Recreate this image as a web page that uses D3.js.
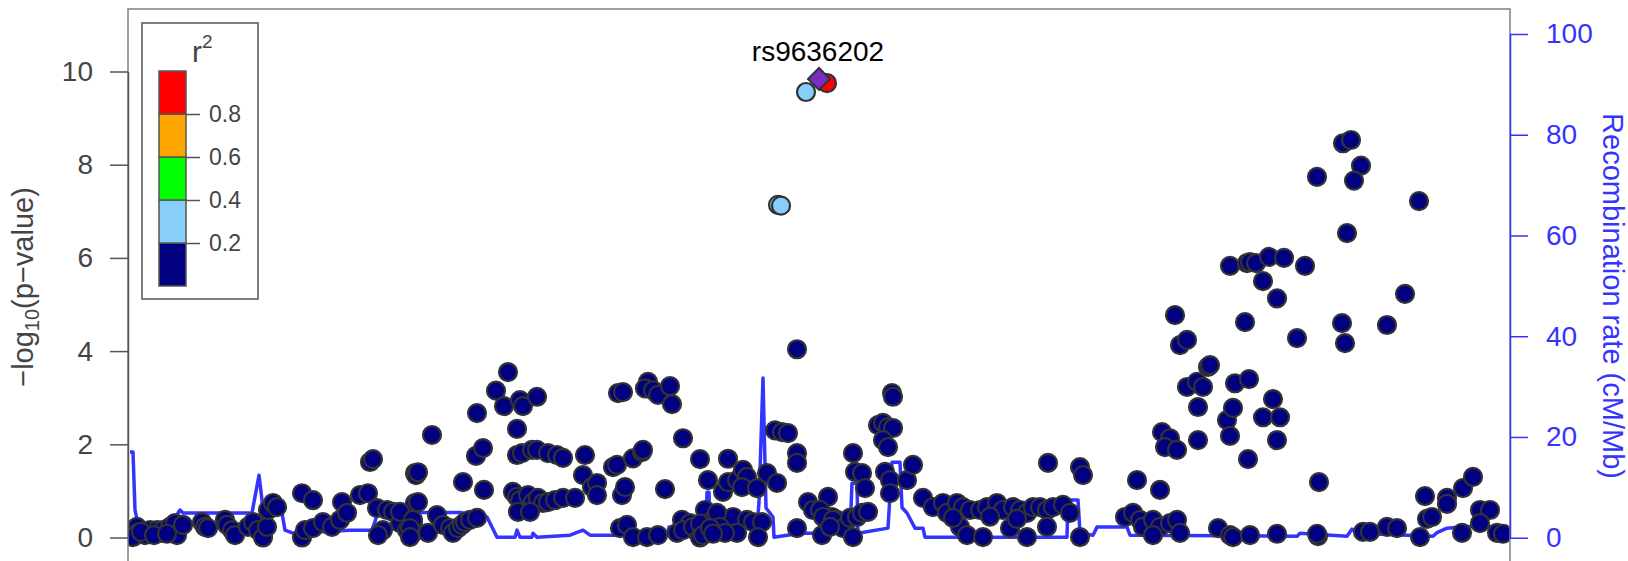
<!DOCTYPE html>
<html><head><meta charset="utf-8">
<script src="https://cdn.jsdelivr.net/npm/d3@7"></script>
<style>
html,body{margin:0;padding:0;background:#fff;}
svg{display:block;font-family:"Liberation Sans",Arial,Helvetica,sans-serif;}
</style></head>
<body>
<svg id="chart" width="1628" height="561"></svg>
<script>
// ---------- data (position in kb from the window start, -log10 p) ----------
const lowPos = [9,10,5,17,22,29,34,35,42,47,49,55,74,77,80,97,99,104,107,120,125,130,135,139,140,145,149,174,185,174,177,185,195,204,212,214,219,232,240,242,245,249,255,250,259,265,272,279,287,287,285,285,13,26,39,
 304,348,355,288,290,335,356,389,394,404,409,420,429,435,457,385,389,392,400,405,410,415,420,427,435,447,390,402,455,464,469,469,485,489,494,497,505,514,290,
 272,285,282,300,309,315,322,325,330,334,337,342,349,282,492,499,505,519,
 380,368,376,392,395,409,349,389,490,495,520,517,525,530,542,544,
 555,515,572,600,537,580,595,600,609,615,619,614,629,639,649,647,654,660,669,669,669,680,700,694,704,709,669,685,
 530,554,562,577,585,594,605,619,625,634,630,609,579,569,549,555,565,572,577,589,592,597,572,575,582,585,
 692,695,705,715,694,702,725,725,727,734,737,722,729,734,740,764,765,750,755,760,765,755,760,757,762,762,779,785,
 795,805,815,819,829,835,842,852,859,869,875,885,892,899,905,912,919,925,935,942,
 832,839,855,882,899,919,952,825,862,889,
 920,952,955,1009,1032,997,1005,1012,1015,1025,1032,1025,1042,1049,1052,
 1047,1052,1059,1080,1082,1059,1069,1075,1070,1034,1042,1037,1049,1070,1090,
 1135,1149,1117,1169,1214,1217,1259,1277,1107,1121,1099,1105,1102,1120,1135,1145,1152,1149,1191,
 1102,1105,1122,1149,1190,1189,1235,1242,1259,1269,1292,1297,1299,1304,1319,1319,1334,1335,1345,1352,1362,1352,1369,1375,
 1215,1223,1233,1189,1226,1291,1219,1102,1119,1122,1128,1141,1156,1177];
const lowLogP = [0.23,0.10,0.01,0.05,0.16,0.16,0.10,0.16,0.23,0.31,0.05,0.27,0.33,0.23,0.20,0.38,0.27,0.16,0.05,0.23,0.33,0.16,0.00,0.23,0.59,0.74,0.65,0.95,0.80,0.00,0.16,0.20,0.33,0.23,0.38,0.76,0.53,0.91,0.95,1.62,1.68,0.63,0.16,0.05,0.59,0.55,0.31,0.16,1.38,0.74,0.33,0.10,0.12,0.05,0.08,
 2.20,1.75,1.92,1.34,1.40,1.19,1.02,1.77,1.81,1.88,1.88,1.81,1.77,1.71,1.77,0.98,0.87,0.80,0.91,0.76,0.85,0.74,0.76,0.80,0.85,0.85,0.55,0.55,1.34,1.08,1.17,0.91,1.51,1.56,0.91,1.08,1.70,1.83,0.76,
 0.55,0.38,0.20,0.10,0.48,0.27,0.20,0.10,0.20,0.27,0.33,0.38,0.42,0.01,0.20,0.27,0.01,0.01,
 3.55,3.15,2.82,2.95,2.82,3.02,2.67,2.33,3.10,3.12,3.34,3.20,3.16,3.06,3.25,2.86,
 2.13,1.88,1.68,1.69,1.04,1.23,0.98,1.19,1.23,1.45,1.30,1.08,1.06,1.38,1.17,2.30,2.26,2.24,4.04,1.81,1.60,0.76,0.87,0.52,0.44,0.38,0.20,0.59,
 0.05,0.38,0.31,0.59,0.38,0.38,0.44,0.38,0.33,0.33,0.01,0.10,0.10,0.12,0.10,0.16,0.23,0.00,0.16,0.53,0.23,0.10,0.30,0.05,0.20,0.08,
 0.59,0.44,0.38,0.20,0.05,0.23,0.01,1.81,1.41,1.38,1.06,0.42,0.44,0.53,0.55,3.10,3.02,2.41,2.46,2.37,2.35,2.09,1.94,1.41,1.23,0.95,1.23,1.56,
 0.85,0.65,0.74,0.53,0.74,0.65,0.59,0.59,0.65,0.74,0.59,0.65,0.59,0.53,0.65,0.65,0.59,0.65,0.70,0.53,
 0.23,0.05,0.01,0.20,0.01,0.23,0.01,0.42,0.45,0.40,
 1.60,1.51,1.34,1.23,1.02,0.44,0.53,0.38,0.23,0.38,0.23,0.05,0.31,0.38,0.10,
 4.77,4.13,4.24,3.66,3.70,3.23,3.34,3.23,2.80,2.26,2.13,1.94,1.88,2.09,0.20,
 5.50,5.13,4.62,4.28,4.60,4.17,4.56,5.23,3.31,3.40,2.52,2.78,2.18,1.68,2.58,2.97,2.58,2.09,1.19,
 0.05,0.01,0.05,0.08,0.03,0.08,0.12,0.12,0.23,0.20,0.01,0.89,0.40,0.44,0.85,0.72,0.10,1.06,1.30,0.59,0.59,0.31,0.10,0.08,
 8.46,8.53,7.98,7.74,7.66,7.22,6.53,5.83,5.89,5.91,5.89,6.02,6.00,5.83];

// SNPs with r2 >= 0.2
const ldPos = [650, 653, 678, 699];
const ldLogP = [7.14, 7.12, 9.56, 9.75];
const ldR2 = [0.30, 0.30, 0.35, 0.85];

// index SNP
const leadName = "rs9636202";
const leadPos = 691;
const leadLogP = 9.84;

// recombination rate (cM/Mb)
const recPos = [2,5,7,12,47,50,52,55,124,131,134,135,154,157,165,222,244,250,297,332,359,369,387,389,392,404,405,409,442,455,462,539,541,578,579,581,582,629,631,635,638,645,646,672,722,724,729,730,760,764,772,774,779,787,795,797,939,940,950,952,965,969,999,1002,1169,1172,1219,1224,1229,1305,1309,1319,1339,1380];
const recRate = [17.0,17.0,5.5,0.9,0.9,4.9,5.5,4.9,4.9,12.4,7.5,4.0,4.9,1.5,0.9,1.5,1.5,5.0,5.0,5.0,4.1,0.1,0.1,1.5,0.1,0.1,0.9,0.1,0.5,1.5,0.5,0.5,2.1,2.1,9.0,9.0,2.1,2.1,7.0,31.7,5.9,4.1,0.1,0.9,0.9,10.8,10.8,0.9,1.9,15.0,15.0,6.0,4.9,1.9,1.9,0.1,0.1,7.5,7.5,0.9,0.5,2.1,2.1,0.5,0.3,0.9,0.3,1.7,0.9,0.3,1.0,1.9,2.2,2.2];

// r2 legend
const r2Breaks = [0.2, 0.4, 0.6, 0.8];
const r2Colors = ["#000080", "#87CEFA", "#00FF00", "#FFA500", "#FF0000"];
const leftTicks = [0, 2, 4, 6, 8, 10];
const rightTicks = [0, 20, 40, 60, 80, 100];

// ---------- drawing ----------
const svg = d3.select("#chart");
const X0 = 128, X1 = 1510, TOP = 9;
const x = d3.scaleLinear().domain([0, 1382]).range([X0, X1]);
const y = d3.scaleLinear().domain([0, 10]).range([537.5, 71.5]);
const yR = d3.scaleLinear().domain([0, 100]).range([537.7, 34]);
const color = d3.scaleThreshold().domain(r2Breaks).range(r2Colors);
const BLUE = "#3434ff";
const FONT = "'Liberation Sans',Arial,Helvetica,sans-serif";

svg.append("rect").attr("width", 1628).attr("height", 561).attr("fill", "#fff");

svg.append("defs").append("clipPath").attr("id", "clip")
  .append("rect").attr("x", X0).attr("y", TOP).attr("width", X1 - X0).attr("height", 600);

// recombination line
const line = d3.line().x((d, i) => x(recPos[i])).y((d, i) => yR(recRate[i]));
svg.append("path").datum(recRate).attr("d", line)
  .attr("fill", "none").attr("stroke", BLUE).attr("stroke-width", 3.5)
  .attr("stroke-linejoin", "round").attr("clip-path", "url(#clip)");

// low-LD points
const pts = svg.append("g").attr("clip-path", "url(#clip)");
pts.selectAll("circle.low").data(lowPos).join("circle").attr("class", "low")
  .attr("cx", (d) => x(d)).attr("cy", (d, i) => y(lowLogP[i])).attr("r", 9)
  .attr("fill", r2Colors[0]).attr("stroke", "#333").attr("stroke-width", 2.2);

// LD points
pts.selectAll("circle.ld").data(ldPos).join("circle").attr("class", "ld")
  .attr("cx", (d) => x(d)).attr("cy", (d, i) => y(ldLogP[i])).attr("r", 9)
  .attr("fill", (d, i) => color(ldR2[i])).attr("stroke", "#333").attr("stroke-width", 2.2);

// lead SNP diamond
pts.append("path").attr("d", d3.symbol(d3.symbolSquare, 240)())
  .attr("transform", `translate(${x(leadPos)},${y(leadLogP)}) rotate(45)`)
  .attr("fill", "#7d2cc0").attr("stroke", "#333").attr("stroke-width", 2);

svg.append("text").attr("x", x(leadPos) - 1).attr("y", 61).attr("text-anchor", "middle")
  .attr("font-size", 28).attr("fill", "#000").text(leadName);

// frame
svg.append("rect").attr("x", X0).attr("y", TOP).attr("width", X1 - X0).attr("height", 620)
  .attr("fill", "none").attr("stroke", "#808080").attr("stroke-width", 1.5);

// left axis
const gl = svg.append("g").attr("transform", `translate(${X0},0)`)
  .call(d3.axisLeft(y).tickValues(leftTicks).tickSize(18).tickPadding(17).tickSizeOuter(0));
gl.select(".domain").attr("stroke", "#555").attr("stroke-width", 1.5);
gl.selectAll(".tick line").attr("stroke", "#555").attr("stroke-width", 1.5);
gl.selectAll(".tick text").attr("fill", "#444").attr("font-size", 28).attr("font-family", FONT);

// right axis
const gr = svg.append("g").attr("transform", `translate(${X1},0)`)
  .call(d3.axisRight(yR).tickValues(rightTicks).tickSize(18).tickPadding(18).tickSizeOuter(0));
gr.select(".domain").attr("stroke", BLUE).attr("stroke-width", 1.5);
gr.selectAll(".tick line").attr("stroke", BLUE).attr("stroke-width", 1.5);
gr.selectAll(".tick text").attr("fill", BLUE).attr("font-size", 28).attr("font-family", FONT);

// axis titles
const lt = svg.append("text").attr("transform", "translate(33,287) rotate(-90)")
  .attr("text-anchor", "middle").attr("font-size", 29).attr("fill", "#444");
lt.append("tspan").text("\u2212log");
lt.append("tspan").attr("font-size", 20).attr("dy", 6).text("10");
lt.append("tspan").attr("dy", -6).text("(p\u2212value)");

svg.append("text").attr("transform", "translate(1603,296) rotate(90)")
  .attr("text-anchor", "middle").attr("font-size", 29).attr("fill", BLUE)
  .text("Recombination rate (cM/Mb)");

// r2 legend
const lg = svg.append("g");
lg.append("rect").attr("x", 142).attr("y", 23).attr("width", 116).attr("height", 276)
  .attr("fill", "#fff").attr("stroke", "#555").attr("stroke-width", 1.5);
const yL = d3.scaleLinear().domain([0, 1]).range([286, 71]);
const edges = [0].concat(r2Breaks, [1]);
lg.selectAll("rect.seg").data(r2Colors).join("rect").attr("class", "seg")
  .attr("x", 159).attr("width", 27)
  .attr("y", (d, i) => yL(edges[i + 1])).attr("height", (d, i) => yL(edges[i]) - yL(edges[i + 1]))
  .attr("fill", (d) => d).attr("stroke", "#555").attr("stroke-width", 1.5);
const la = lg.append("g").attr("transform", "translate(186,0)")
  .call(d3.axisRight(yL).tickValues(r2Breaks).tickSize(14).tickPadding(9).tickSizeOuter(0));
la.select(".domain").remove();
la.selectAll(".tick line").attr("stroke", "#555").attr("stroke-width", 1.5);
la.selectAll(".tick text").attr("fill", "#444").attr("font-size", 23).attr("font-family", FONT);
const rt = lg.append("text").attr("x", 192).attr("y", 62).attr("font-size", 30).attr("fill", "#444");
rt.append("tspan").text("r");
rt.append("tspan").attr("font-size", 19).attr("dy", -14).text("2");
</script>
</body></html>
